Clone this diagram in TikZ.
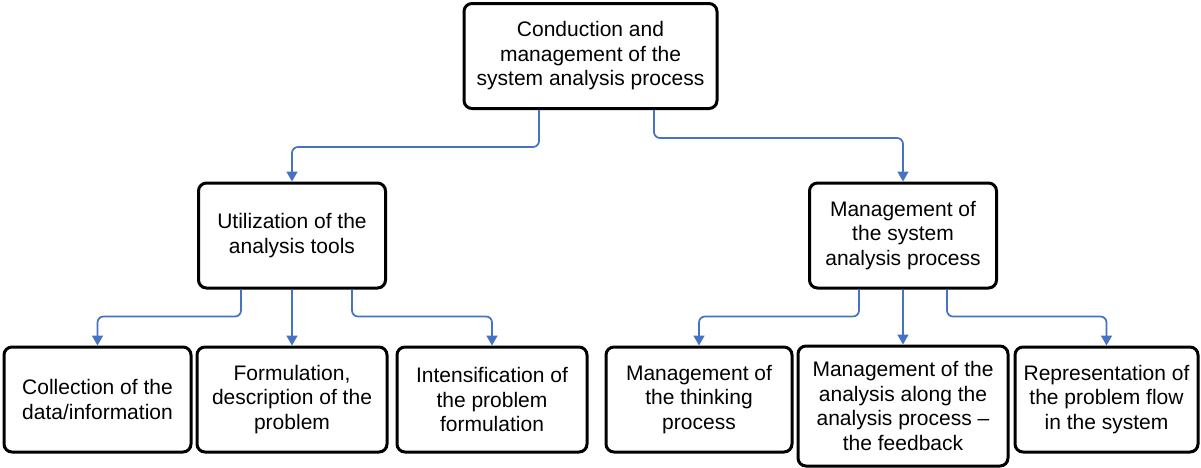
\documentclass[tikz,border=0pt]{standalone}
\usepackage{fontspec}
\setmainfont{Liberation Sans}
\usetikzlibrary{arrows.meta}
\definecolor{linkblue}{HTML}{4472C4}

\begin{document}
\begin{tikzpicture}[x=1pt,y=-1pt,
                    box/.style={draw,line width=3pt,rounded corners=8pt,fill=white,align=center,inner sep=0pt,
                                font=\fontsize{21}{24.5}\selectfont,minimum height=105pt},
                    link/.style={linkblue,line width=1.7pt,rounded corners=6pt,-{Triangle[length=10pt,width=11pt]}}]
                \useasboundingbox (0,0) rectangle (1201,467);
                \node[box,minimum width=253pt] (top) at (590.5,56) {Conduction and\\management of the\\system analysis process};
                \node[box,minimum width=187pt] (util) at (292,235.5) {Utilization of the\\analysis tools};
                \node[box,minimum width=187pt] (mgmt) at (903,235.5) {Management of\\the system\\analysis process};
                \node[box,minimum width=187pt] (collect) at (97.5,399.5) {Collection of the\\data/information};
                \node[box,minimum width=190pt] (formul) at (292,399.5) {Formulation,\\description of the\\problem};
                \node[box,minimum width=190pt] (intens) at (492,399.5) {Intensification of\\the problem\\formulation};
                \node[box,minimum width=186pt] (think) at (699,399.5) {Management of\\the thinking\\process};
                \node[box,minimum width=210pt,minimum height=120pt] (feedb) at (903,406) {Management of the\\analysis along the\\analysis process --\\the feedback};
                \node[box,minimum width=183pt] (flow) at (1106.5,399.5) {Representation of\\the problem flow\\in the system};
                \draw[link] ([xshift=-51.5pt]top.south) -- ++(0,37) -| (util.north);
                \draw[link] ([xshift=63.5pt]top.south) -- ++(0,28) -| (mgmt.north);
                \draw[link] ([xshift=-51pt]util.south) -- ++(0,27) -| (collect.north);
                \draw[link] (util.south) -- (formul.north -| util.south);
                \draw[link] ([xshift=60pt]util.south) -- ++(0,27) -| (intens.north);
                \draw[link] ([xshift=-44pt]mgmt.south) -- ++(0,27) -| (think.north);
                \draw[link] (mgmt.south) -- (feedb.north -| mgmt.south);
                \draw[link] ([xshift=44pt]mgmt.south) -- ++(0,27) -| (flow.north);
\end{tikzpicture}
\end{document}
